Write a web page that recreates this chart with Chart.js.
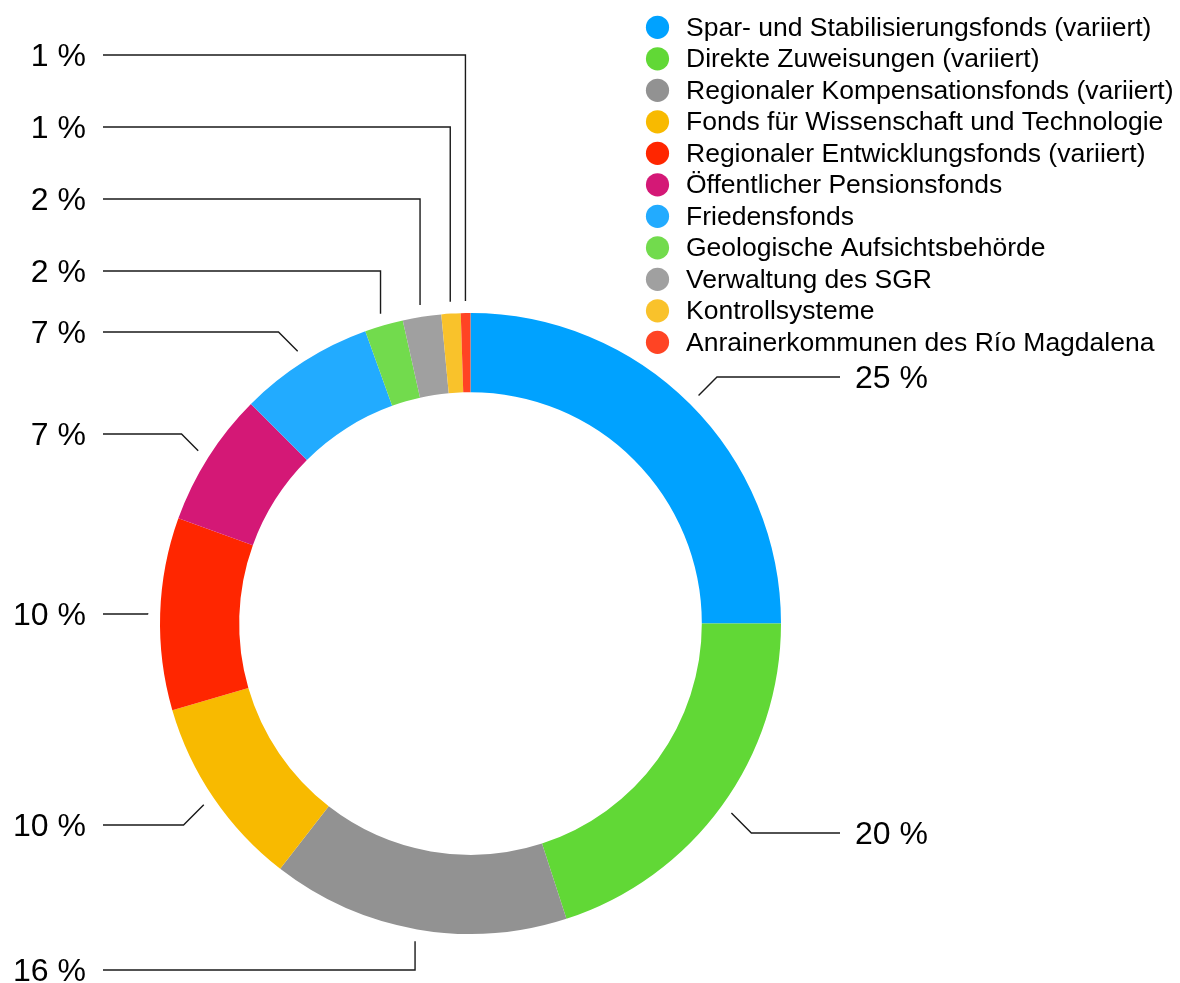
<!DOCTYPE html>
<html>
<head>
<meta charset="utf-8">
<script src="https://cdn.jsdelivr.net/npm/chart.js@4/dist/chart.umd.min.js"></script>
<style>
  html, body { margin: 0; padding: 0; background: #ffffff; }
  #wrap { position: relative; width: 1180px; height: 983px; }
  canvas { display: block; }
</style>
</head>
<body>
<div id="wrap"><canvas id="c" width="1180" height="983"></canvas></div>
<script>
// ---- Data ----
const categories = [
  'Spar- und Stabilisierungsfonds (variiert)',
  'Direkte Zuweisungen (variiert)',
  'Regionaler Kompensationsfonds (variiert)',
  'Fonds für Wissenschaft und Technologie',
  'Regionaler Entwicklungsfonds (variiert)',
  'Öffentlicher Pensionsfonds',
  'Friedensfonds',
  'Geologische Aufsichtsbehörde',
  'Verwaltung des SGR',
  'Kontrollsysteme',
  'Anrainerkommunen des Río Magdalena'
];
const shares = [25, 20, 15.5, 10, 10, 7, 7, 2, 2, 1, 0.5];
const colors = [
  '#00A2FF', '#61D836', '#929292', '#F8BA00', '#FF2600', '#D41876',
  '#22ABFF', '#72DB4D', '#A0A0A0', '#F9C22B', '#FF4424'
];

// ---- Layout (label rows for leader lines) ----
const labelRowY = [377, 833, 970, 825, 614, 434, 332, 271, 199, 127, 55];

const FONT = '"Liberation Sans", Arial, Helvetica, sans-serif';

const calloutPlugin = {
  id: 'callouts',
  afterDraw(chart) {
    const ctx = chart.ctx;
    const meta = chart.getDatasetMeta(0);
    const data = chart.data.datasets[0].data;
    const total = data.reduce((a, b) => a + b, 0);
    ctx.save();
    ctx.strokeStyle = '#1a1a1a';
    ctx.lineWidth = 1.4;
    ctx.font = '32px ' + FONT;
    ctx.fillStyle = '#000';
    ctx.textBaseline = 'middle';
    meta.data.forEach((arc, i) => {
      const p = arc.getProps(['x', 'y', 'startAngle', 'endAngle', 'outerRadius'], true);
      const mid = (p.startAngle + p.endAngle) / 2;
      const r = p.outerRadius + 12;
      const ax = p.x + r * Math.cos(mid);
      const ay = p.y + r * Math.sin(mid);
      const right = Math.cos(mid) >= 0;
      const dir = right ? 1 : -1;
      const rowY = labelRowY[i];
      let ex, ey = rowY;
      if (Math.abs(Math.cos(mid)) < 0.35) {
        ex = ax;
      } else {
        ex = ax + dir * Math.abs(rowY - ay);
      }
      const endX = right ? 840 : 103;
      ctx.beginPath();
      ctx.moveTo(ax, ay);
      ctx.lineTo(ex, ey);
      ctx.lineTo(endX, ey);
      ctx.stroke();
      const txt = Math.round(data[i] / total * 100) + ' %';
      ctx.textAlign = right ? 'left' : 'right';
      ctx.fillText(txt, right ? 855 : 86, rowY + 2);
    });
    // legend
    ctx.font = '26.5px ' + FONT;
    ctx.textAlign = 'left';
    chart.data.labels.forEach((lab, i) => {
      const cy = 27.3 + i * 31.5;
      ctx.beginPath();
      ctx.fillStyle = chart.data.datasets[0].backgroundColor[i];
      ctx.arc(657.5, cy, 11.6, 0, Math.PI * 2);
      ctx.fill();
      ctx.fillStyle = '#000';
      ctx.fillText(lab, 686, cy + 1);
    });
    ctx.restore();
  }
};

new Chart(document.getElementById('c'), {
  type: 'doughnut',
  data: {
    labels: categories,
    datasets: [{
      data: shares,
      backgroundColor: colors,
      borderWidth: 0
    }]
  },
  options: {
    responsive: false,
    devicePixelRatio: 1,
    animation: false,
    cutout: '74.5%',
    layout: { padding: { left: 160, top: 313, right: 399, bottom: 49 } },
    plugins: {
      legend: { display: false },
      tooltip: { enabled: false }
    }
  },
  plugins: [calloutPlugin]
});
</script>
</body>
</html>
